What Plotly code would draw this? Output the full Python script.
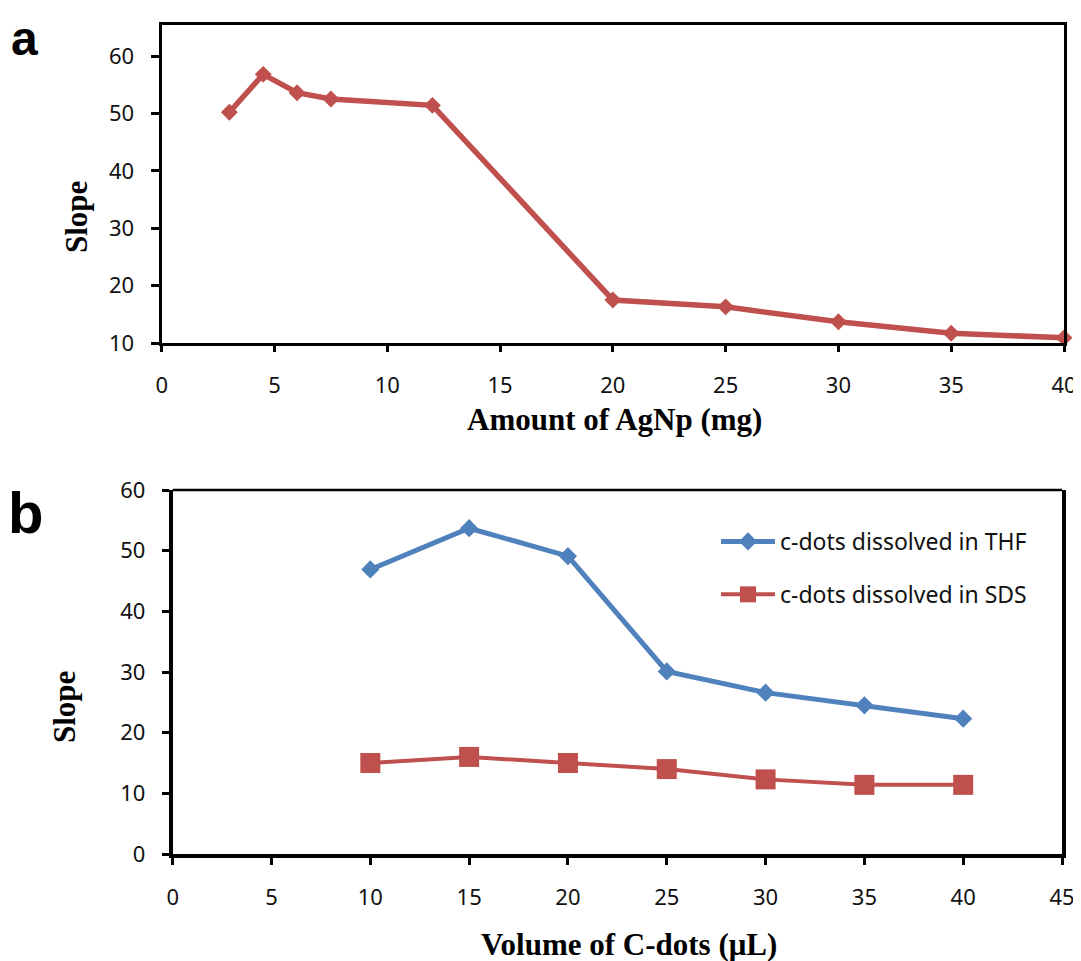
import plotly.graph_objects as go

# ---- Panel a data ----
amount_agnp = [3, 4.5, 6, 7.5, 12, 20, 25, 30, 35, 40]
slope_a = [50.2, 56.8, 53.6, 52.5, 51.4, 17.5, 16.3, 13.7, 11.7, 10.9]

# ---- Panel b data ----
volume_cdots = [10, 15, 20, 25, 30, 35, 40]
slope_thf = [46.9, 53.7, 49.1, 30.1, 26.6, 24.5, 22.3]
slope_sds = [15.0, 16.0, 15.0, 14.0, 12.3, 11.4, 11.4]

xticks_a = [0, 5, 10, 15, 20, 25, 30, 35, 40]
yticks_a = [10, 20, 30, 40, 50, 60]
xticks_b = [0, 5, 10, 15, 20, 25, 30, 35, 40, 45]
yticks_b = [0, 10, 20, 30, 40, 50, 60]

RED = "#C0504D"
BLUE = "#4F81BD"
OFF = 8  # page body margin
W, H = 1081 - OFF, 961 - OFF

fig = go.Figure()

fig.add_trace(go.Scatter(
    x=amount_agnp, y=slope_a, mode="lines+markers",
    line=dict(color=RED, width=5.5),
    marker=dict(symbol="diamond", size=13, color=RED),
    xaxis="x", yaxis="y", showlegend=False, cliponaxis=False,
))
fig.add_trace(go.Scatter(
    x=volume_cdots, y=slope_thf, mode="lines+markers",
    name="c-dots dissolved in THF",
    line=dict(color=BLUE, width=5),
    marker=dict(symbol="diamond", size=14, color=BLUE),
    xaxis="x2", yaxis="y2", legendgroup="g1", cliponaxis=False,
))
fig.add_trace(go.Scatter(
    x=volume_cdots, y=slope_sds, mode="lines+markers",
    name="c-dots dissolved in SDS",
    line=dict(color=RED, width=4),
    marker=dict(symbol="square", size=20, color=RED),
    xaxis="x2", yaxis="y2", legendgroup="g2", cliponaxis=False,
))

tickfont = dict(family="Noto Sans", size=22, color="#111111")
common = dict(showgrid=False, zeroline=False, showline=True, linecolor="black",
              ticks="outside", tickcolor="black", tickwidth=2.5,
              tickfont=tickfont, automargin=False)

def px_x(p):
    return (p - OFF) / W

def px_y(p):
    return (H - (p - OFF)) / H

xb_dom = [px_x(172.7), px_x(1062)]
yb_dom = [px_y(854), px_y(490)]

fig.update_layout(
    width=W, height=H,
    margin=dict(l=0, r=0, t=0, b=0, pad=0),
    paper_bgcolor="white", plot_bgcolor="white",
    xaxis=dict(domain=[px_x(161.7), px_x(1064)], range=[0, 40], tickvals=xticks_a,
               anchor="y", linewidth=3.3, ticklen=6, ticklabelstandoff=14,
               mirror=True, **common),
    yaxis=dict(domain=[px_y(343), px_y(25)], range=[10, 65.4], tickvals=yticks_a,
               anchor="x", linewidth=3.3, ticklen=8, ticklabelstandoff=12,
               mirror=True, **common),
    xaxis2=dict(domain=xb_dom, range=[0, 45], tickvals=xticks_b,
                anchor="y2", linewidth=4, ticklen=7, ticklabelstandoff=14,
                mirror=False, **common),
    yaxis2=dict(domain=yb_dom, range=[0, 60], tickvals=yticks_b,
                anchor="x2", linewidth=4, ticklen=7, ticklabelstandoff=12,
                mirror=True, **common),
    legend=dict(x=px_x(716), y=px_y(520), xanchor="left", yanchor="top",
                bgcolor="rgba(0,0,0,0)", borderwidth=0,
                font=dict(family="Noto Sans", size=23, color="#111111"),
                itemwidth=54, traceorder="grouped", tracegroupgap=20),
    showlegend=True,
)

# thinner top border of panel b
fig.add_shape(type="line", xref="paper", yref="paper",
              x0=xb_dom[0], x1=xb_dom[1], y0=yb_dom[1], y1=yb_dom[1],
              line=dict(color="black", width=2.7))

title_font = dict(family="Liberation Serif", size=31, color="black")
ann = [
    dict(text="<b>Amount of AgNp (mg)</b>", x=px_x(614), y=px_y(420)),
    dict(text="<b>Volume of C-dots (μL)</b>", x=px_x(629), y=px_y(944)),
    dict(text="<b>Slope</b>", x=px_x(76), y=px_y(217), textangle=-90),
    dict(text="<b>Slope</b>", x=px_x(64), y=px_y(707), textangle=-90),
]
for a in ann:
    fig.add_annotation(xref="paper", yref="paper", xanchor="center", yanchor="middle",
                       showarrow=False, font=title_font, **a)

fig.add_annotation(text="<b>a</b>", x=px_x(24), y=px_y(38), xref="paper", yref="paper",
                   xanchor="center", yanchor="middle", showarrow=False,
                   font=dict(family="Liberation Sans", size=48, color="black"))
fig.add_annotation(text="<b>b</b>", x=px_x(25), y=px_y(512), xref="paper", yref="paper",
                   xanchor="center", yanchor="middle", showarrow=False,
                   font=dict(family="Liberation Sans", size=58, color="black"))

fig.write_html("out.html")
